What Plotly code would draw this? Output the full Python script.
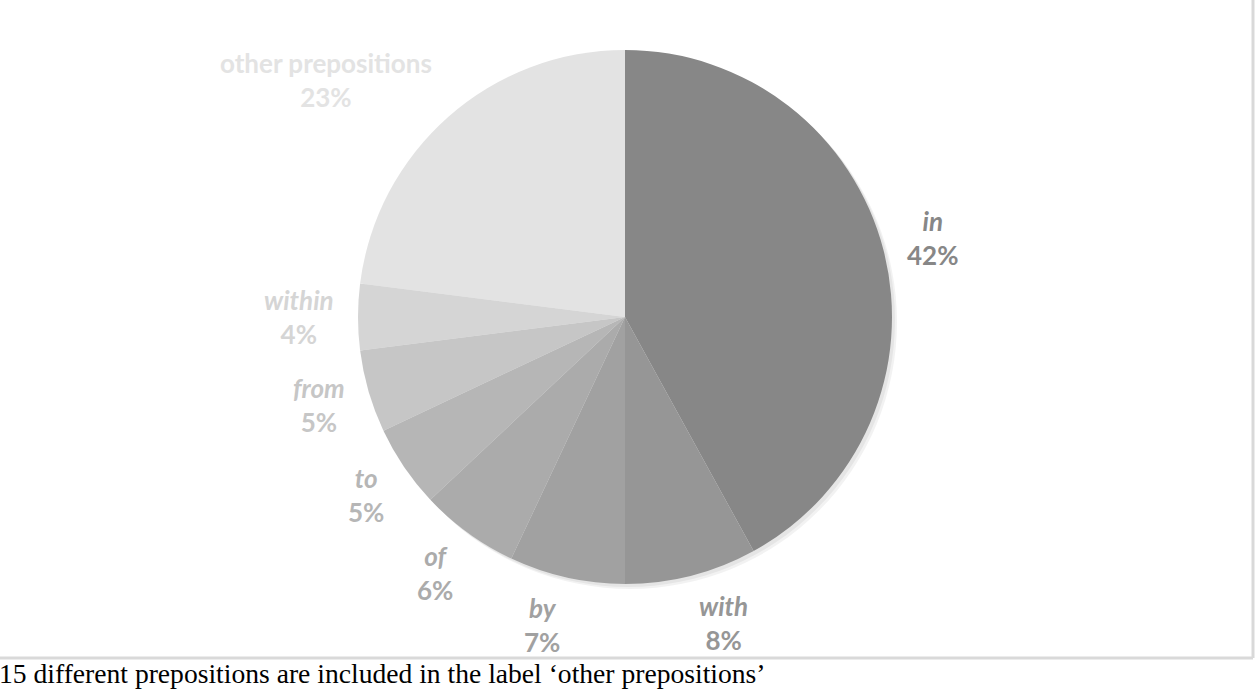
import math
import plotly.graph_objects as go

# data
prepositions = ["in", "with", "by", "of", "to", "from", "within", "other prepositions"]
shares = [42, 8, 7, 6, 5, 5, 4, 23]
slice_colors = ["#878787", "#969696", "#a1a1a1", "#ababab", "#b6b6b6",
                "#c6c6c6", "#d5d5d5", "#e3e3e3"]
footnote = "15 different prepositions are included in the label \u2018other prepositions\u2019"

W, H = 1256, 690
cx, cy, r = 625, 317, 267  # pie centre / radius in pixels
gap = 22                   # label distance outside the rim
half_h = 27                # half height of a two-line label

# names in italics except the catch-all label
label_text = [p if p == "other prepositions" else "<i>%s</i>" % p for p in prepositions]


def dom(dx=0, dy=0):
    return dict(x=[(cx - r + dx) / W, (cx + r + dx) / W],
                y=[1 - (cy + r + dy) / H, 1 - (cy - r + dy) / H])


fig = go.Figure()

# soft shadow behind the pie
fig.add_trace(go.Pie(
    values=[1], domain=dom(5, 5), marker=dict(colors=["rgba(0,0,0,0.05)"]),
    textinfo="none", hoverinfo="skip", showlegend=False, sort=False,
))
fig.add_trace(go.Pie(
    values=[1], domain=dom(3, 3), marker=dict(colors=["rgba(0,0,0,0.05)"]),
    textinfo="none", hoverinfo="skip", showlegend=False, sort=False,
))

fig.add_trace(go.Pie(
    labels=prepositions,
    values=shares,
    sort=False,
    direction="clockwise",
    rotation=0,
    domain=dom(),
    marker=dict(colors=slice_colors, line=dict(width=0)),
    textinfo="none",
    showlegend=False,
))

# outside-end data labels, placed at each slice's middle angle
total = sum(shares)
cum = 0
for name, val, col in zip(label_text, shares, slice_colors):
    mid = (cum + val / 2) / total * 2 * math.pi
    cum += val
    s, c = math.sin(mid), math.cos(mid)
    px = cx + (r + gap) * s
    py = cy - (r + gap) * c
    fig.add_annotation(
        x=px / W, y=1 - py / H, xref="paper", yref="paper",
        xanchor="left" if s > 0 else "right", yanchor="middle",
        yshift=half_h * c, showarrow=False, align="center",
        text="<b>%s<br>%d%%</b>" % (name, round(val / total * 100)),
        font=dict(family="Lato", size=26, color=col),
    )

fig.add_annotation(
    text=footnote, x=0, y=0, xref="paper", yref="paper",
    xanchor="left", yanchor="bottom", showarrow=False, xshift=-3, yshift=-1,
    font=dict(family="Liberation Serif", size=27.6, color="#000000"),
)

# frame of the original chart area (only right and bottom edges visible)
fig.add_shape(type="line", xref="paper", yref="paper",
              x0=0, x1=1253 / W, y0=1 - 658 / H, y1=1 - 658 / H,
              line=dict(color="#d9d9d9", width=3))
fig.add_shape(type="line", xref="paper", yref="paper",
              x0=1253 / W, x1=1253 / W, y0=1 - 658 / H, y1=1,
              line=dict(color="#d9d9d9", width=3))

fig.update_layout(
    width=W, height=H,
    margin=dict(l=0, r=0, t=0, b=0),
    paper_bgcolor="white",
    plot_bgcolor="white",
)

fig.write_html("out.html", config={"displayModeBar": False},
               post_script="document.body.style.margin='0';")
